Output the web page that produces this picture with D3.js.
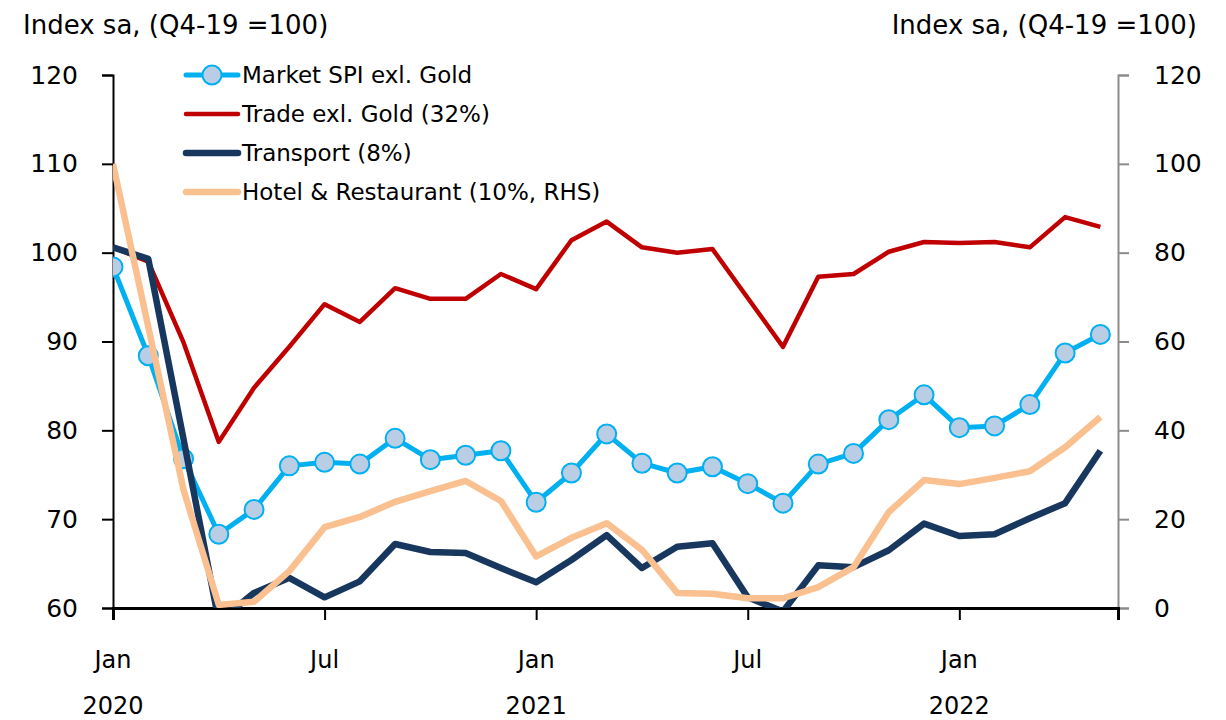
<!DOCTYPE html>
<html>
<head>
<meta charset="utf-8">
<script src="https://d3js.org/d3.v7.min.js"></script>
<style>
  body { margin: 0; background: #fff; }
  text { font-family: "DejaVu Sans", sans-serif; fill: #000; }
</style>
</head>
<body>
<div id="chart"></div>
<script>

// monthly points, Jan 2020 .. May 2022
let months = ["2020-01","2020-02","2020-03","2020-04","2020-05","2020-06","2020-07","2020-08","2020-09","2020-10","2020-11","2020-12",
              "2021-01","2021-02","2021-03","2021-04","2021-05","2021-06","2021-07","2021-08","2021-09","2021-10","2021-11","2021-12",
              "2022-01","2022-02","2022-03","2022-04","2022-05"];

let spi = [98.4, 88.4, 76.8, 68.3, 71.1, 76.0, 76.4, 76.2, 79.1, 76.7, 77.2, 77.7,
           71.9, 75.2, 79.6, 76.3, 75.2, 75.9, 74.0, 71.8, 76.2, 77.4, 81.2, 84.0,
           80.3, 80.5, 82.9, 88.7, 90.8];
let trade = [100.6, 99.0, 89.9, 78.7, 84.8, 89.4, 94.2, 92.2, 96.0, 94.8, 94.8, 97.6,
             95.9, 101.4, 103.5, 100.6, 100.0, 100.4, 94.9, 89.4, 97.3, 97.6, 100.1, 101.2,
             101.1, 101.2, 100.6, 104.0, 102.9];
let transport = [100.6, 99.3, 79.0, 58.5, 61.7, 63.4, 61.2, 63.0, 67.2, 66.3, 66.2, 64.5,
                 62.9, 65.4, 68.2, 64.5, 66.9, 67.3, 61.2, 59.6, 64.8, 64.6, 66.5, 69.5,
                 68.1, 68.3, 70.1, 71.8, 77.7];
// right hand scale
let hotel = [100, 63.3, 26.6, 0.7, 1.4, 8.3, 18.2, 20.5, 23.9, 26.3, 28.6, 24.1,
             11.6, 15.8, 19.1, 13.1, 3.4, 3.2, 2.2, 2.2, 4.7, 9.2, 21.6, 28.8,
             27.9, 29.3, 30.8, 36.2, 43.0];

let xTickMonths = [0, 6, 12, 18, 24];
let xTickLabels = ["Jan", "Jul", "Jan", "Jul", "Jan"];
let yearLabels = ["2020", "", "2021", "", "2022"];
let leftTicks = [60, 70, 80, 90, 100, 110, 120];
let rightTicks = [0, 20, 40, 60, 80, 100, 120];
let seriesNames = ["Market SPI exl. Gold", "Trade exl. Gold (32%)", "Transport (8%)", "Hotel & Restaurant (10%, RHS)"];

let W = 1226, H = 720;
let margin = {left: 113, right: 1118, top: 75, bottom: 608};

let svg = d3.select("#chart").append("svg")
    .attr("width", W)
    .attr("height", H);

let x = d3.scaleLinear().domain([0, 28.5]).range([margin.left, margin.right]);
let yL = d3.scaleLinear().domain([60, 120]).range([margin.bottom, margin.top]);
let yR = d3.scaleLinear().domain([0, 120]).range([margin.bottom, margin.top]);

svg.append("clipPath").attr("id", "plotClip")
  .append("rect")
    .attr("x", margin.left).attr("y", margin.top - 10)
    .attr("width", margin.right - margin.left).attr("height", margin.bottom - margin.top + 10);

// titles
svg.append("text")
    .attr("x", 23).attr("y", 34)
    .style("font-size", "26px")
    .text("Index sa, (Q4-19 =100)");
svg.append("text")
    .attr("x", 1197).attr("y", 34)
    .attr("text-anchor", "end")
    .style("font-size", "26px")
    .text("Index sa, (Q4-19 =100)");

// left axis
let gL = svg.append("g")
    .attr("transform", "translate(" + margin.left + ",0)")
    .call(d3.axisLeft(yL).tickValues(leftTicks).tickSize(11).tickPadding(24));
gL.selectAll("line, path").attr("stroke", "#000").attr("stroke-width", 2);
gL.selectAll("text").style("font-size", "25px").attr("font-family", null);

// right axis
let gR = svg.append("g")
    .attr("transform", "translate(" + margin.right + ",0)")
    .call(d3.axisRight(yR).tickValues(rightTicks).tickSize(11).tickPadding(25));
gR.selectAll("line, path").attr("stroke", "#8c8c8c").attr("stroke-width", 2);
gR.selectAll("text").style("font-size", "25px").attr("font-family", null);

// bottom axis
let gB = svg.append("g")
    .attr("transform", "translate(0," + margin.bottom + ")")
    .call(d3.axisBottom(x).tickValues(xTickMonths).tickSize(12).tickFormat(""));
gB.select(".domain").attr("stroke", "#000").attr("stroke-width", 3);
gB.selectAll(".tick line").attr("stroke", "#000").attr("stroke-width", 2);

svg.selectAll(".month-label")
  .data(xTickMonths)
  .enter().append("text")
    .attr("x", d => x(d))
    .attr("y", 668)
    .attr("text-anchor", "middle")
    .style("font-size", "24px")
    .text((d, i) => xTickLabels[i]);

svg.selectAll(".year-label")
  .data(xTickMonths)
  .enter().append("text")
    .attr("x", d => x(d))
    .attr("y", 714)
    .attr("text-anchor", "middle")
    .style("font-size", "24px")
    .text((d, i) => yearLabels[i]);

// lines
let plot = svg.append("g").attr("clip-path", "url(#plotClip)");

let lineL = d3.line().x((d, i) => x(i)).y(d => yL(d));
let lineR = d3.line().x((d, i) => x(i)).y(d => yR(d));

plot.append("path").datum(spi)
    .attr("d", lineL)
    .attr("fill", "none").attr("stroke", "#00b0f0").attr("stroke-width", 5)
    .attr("stroke-linejoin", "round");

plot.selectAll(".spi-dot")
  .data(spi)
  .enter().append("circle")
    .attr("cx", (d, i) => x(i))
    .attr("cy", d => yL(d))
    .attr("r", 9.5)
    .attr("fill", "#b9cde5")
    .attr("stroke", "#00b0f0")
    .attr("stroke-width", 2);

plot.append("path").datum(trade)
    .attr("d", lineL)
    .attr("fill", "none").attr("stroke", "#c00000").attr("stroke-width", 4.5)
    .attr("stroke-linejoin", "round");

plot.append("path").datum(transport)
    .attr("d", lineL)
    .attr("fill", "none").attr("stroke", "#17375e").attr("stroke-width", 6.5)
    .attr("stroke-linejoin", "round");

plot.append("path").datum(hotel)
    .attr("d", lineR)
    .attr("fill", "none").attr("stroke", "#fac090").attr("stroke-width", 6.5)
    .attr("stroke-linejoin", "round");

// legend
let legendColors = ["#00b0f0", "#c00000", "#17375e", "#fac090"];
let legendWidths = [5, 4.5, 6.5, 6.5];
let legend = svg.append("g");

seriesNames.forEach(function(name, i) {
    let ly = 75 + i * 39;
    legend.append("line")
        .attr("x1", 186).attr("x2", 238)
        .attr("y1", ly).attr("y2", ly)
        .attr("stroke", legendColors[i])
        .attr("stroke-width", legendWidths[i])
        .attr("stroke-linecap", "round");
    if (i == 0) {
        legend.append("circle")
            .attr("cx", 212).attr("cy", ly).attr("r", 9.5)
            .attr("fill", "#b9cde5")
            .attr("stroke", "#00b0f0")
            .attr("stroke-width", 2);
    }
    legend.append("text")
        .attr("x", 242).attr("y", ly)
        .attr("dy", "0.36em")
        .style("font-size", "23px")
        .text(name);
});

</script>
</body>
</html>
